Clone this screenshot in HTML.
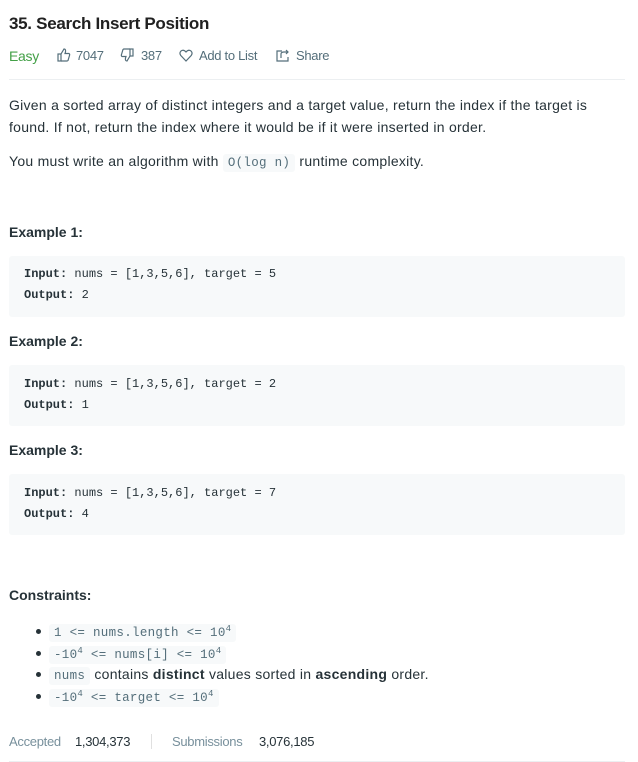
<!DOCTYPE html>
<html><head><meta charset="utf-8"><style>
*{margin:0;padding:0;box-sizing:border-box}
body{width:638px;height:762px;background:#fff;position:relative;overflow:hidden;font-family:"Liberation Sans",sans-serif;color:#263238}
.a{position:absolute;white-space:nowrap}
.t{font-size:14px;letter-spacing:0.27px;line-height:20px}
.h{font-size:14px;font-weight:bold;letter-spacing:0px;line-height:20px}
.box{position:absolute;left:9px;width:616px;height:61px;background:#f7f9fa;border-radius:3px}
.m{font-family:"Liberation Mono",monospace;font-size:12px;line-height:16px;color:#263238}
.m b{font-weight:bold}
.c{font-family:"Liberation Mono",monospace;font-size:12.5px;color:#546e7a;background:#f7f9fa;border-radius:3px;padding:2px 5px;letter-spacing:0.3px}
sup{font-size:9px;vertical-align:5px;line-height:0}
.meta{font-size:13px;color:#546e7a;letter-spacing:-0.3px;line-height:20px}
.dot{position:absolute;left:36px;width:5px;height:5px;border-radius:50%;background:#263238}
</style></head><body>
<div class="a" style="left:9px;top:13px;font-size:17px;font-weight:bold;letter-spacing:-0.3px;line-height:22px;color:#212121">35. Search Insert Position</div>
<div class="a meta" style="left:9px;top:46px;color:#43a047;font-size:14px">Easy</div>
<svg class="a" style="left:57px;top:48px" width="14" height="14" viewBox="0 0 14 14" fill="none" stroke="#546e7a" stroke-width="1.2"><rect x="1" y="6" width="3" height="7"/><path d="M4 6 L7 1 Q9 1 8.5 4 L8 5.5 H12 Q13 6 12.5 7.5 L11 12.5 Q10.5 13 10 13 H4"/></svg>
<div class="a meta" style="left:76px;top:46px">7047</div>
<svg class="a" style="left:120px;top:48px" width="14" height="14" viewBox="0 0 14 14" fill="none" stroke="#546e7a" stroke-width="1.2"><rect x="10" y="1" width="3" height="7"/><path d="M10 8 L7 13 Q5 13 5.5 10 L6 8.5 H2 Q1 8 1.5 6.5 L3 1.5 Q3.5 1 4 1 H10"/></svg>
<div class="a meta" style="left:141px;top:46px">387</div>
<svg class="a" style="left:179px;top:49px" width="14" height="13" viewBox="0 0 14 13" fill="none" stroke="#546e7a" stroke-width="1.2"><path d="M7 12 L1.8 6.5 Q0 4 2 2 Q4.5 0 7 3 Q9.5 0 12 2 Q14 4 12.2 6.5 Z"/></svg>
<div class="a meta" style="left:199px;top:46px">Add to List</div>
<svg class="a" style="left:276px;top:49px" width="14" height="13" viewBox="0 0 14 13" fill="none" stroke="#546e7a" stroke-width="1.2"><path d="M6 2 H1 V12 H12 V8"/><path d="M5 9 V5 Q5 3 8 3 H12 M10 1 L12 3 L10 5"/></svg>
<div class="a meta" style="left:296px;top:46px">Share</div>
<div class="a" style="left:9px;top:79px;width:616px;height:1px;background:#eceff1"></div>
<div class="a t" style="left:9px;top:95px">Given a sorted array of distinct integers and a target value, return the index if the target is</div>
<div class="a t" style="left:9px;top:117px">found. If not, return the index where it would be if it were inserted in order.</div>
<div class="a t" style="left:9px;top:151px">You must write an algorithm with <span class="c">O(log n)</span> runtime complexity.</div>
<div class="a h" style="left:9px;top:222px">Example 1:</div>
<div class="box" style="top:256px"></div>
<div class="a m" style="left:24px;top:266px"><b>Input:</b> nums = [1,3,5,6], target = 5</div>
<div class="a m" style="left:24px;top:287px"><b>Output:</b> 2</div>
<div class="a h" style="left:9px;top:331px">Example 2:</div>
<div class="box" style="top:365px"></div>
<div class="a m" style="left:24px;top:376px"><b>Input:</b> nums = [1,3,5,6], target = 2</div>
<div class="a m" style="left:24px;top:397px"><b>Output:</b> 1</div>
<div class="a h" style="left:9px;top:440px">Example 3:</div>
<div class="box" style="top:474px"></div>
<div class="a m" style="left:24px;top:485px"><b>Input:</b> nums = [1,3,5,6], target = 7</div>
<div class="a m" style="left:24px;top:506px"><b>Output:</b> 4</div>
<div class="a h" style="left:9px;top:585px">Constraints:</div>
<div class="dot" style="top:629px"></div>
<div class="a t" style="left:49px;top:621px"><span class="c">1 &lt;= nums.length &lt;= 10<sup>4</sup></span></div>
<div class="dot" style="top:651px"></div>
<div class="a t" style="left:49px;top:643px"><span class="c">-10<sup>4</sup> &lt;= nums[i] &lt;= 10<sup>4</sup></span></div>
<div class="dot" style="top:672px"></div>
<div class="a t" style="left:49px;top:664px"><span class="c">nums</span> contains <b>distinct</b> values sorted in <b>ascending</b> order.</div>
<div class="dot" style="top:694px"></div>
<div class="a t" style="left:49px;top:686px"><span class="c">-10<sup>4</sup> &lt;= target &lt;= 10<sup>4</sup></span></div>
<div class="a meta" style="left:9px;top:732px;color:#78909c">Accepted</div>
<div class="a meta" style="left:75px;top:732px;color:#263238">1,304,373</div>
<div class="a" style="left:151px;top:734px;width:1px;height:15px;background:#e0e0e0"></div>
<div class="a meta" style="left:172px;top:732px;color:#78909c">Submissions</div>
<div class="a meta" style="left:259px;top:732px;color:#263238">3,076,185</div>
<div class="a" style="left:9px;top:761px;width:616px;height:1px;background:#eceff1"></div>
</body></html>
